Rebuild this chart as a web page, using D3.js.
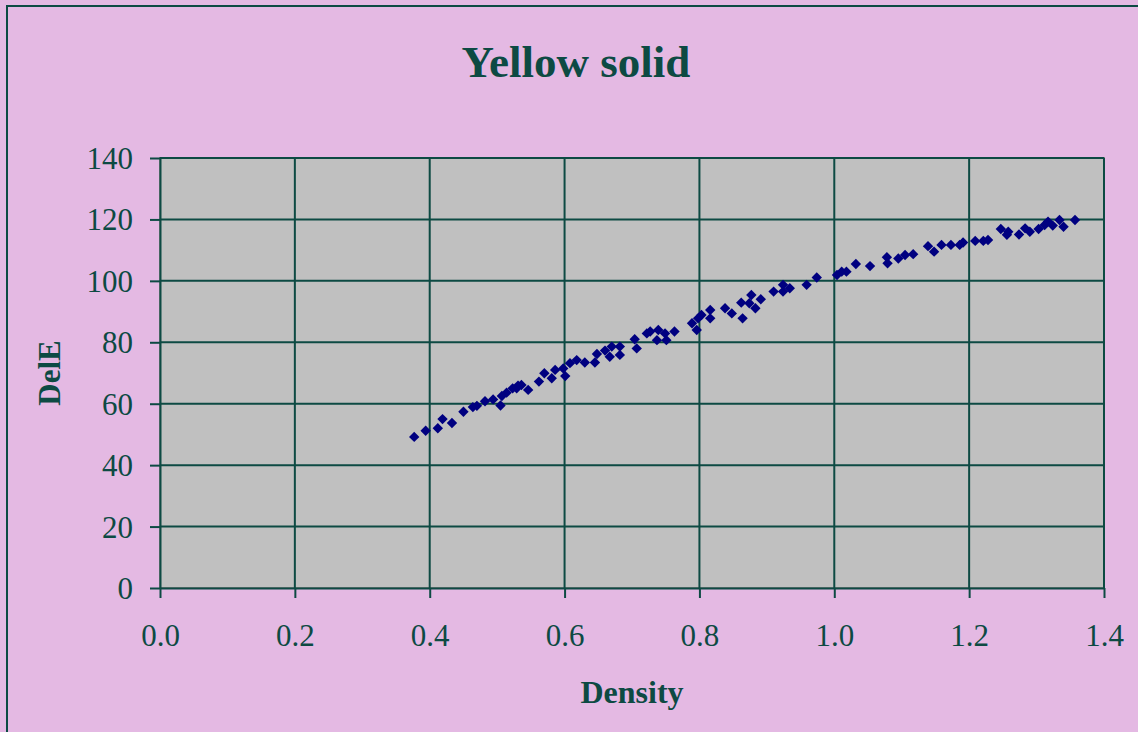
<!DOCTYPE html>
<html>
<head>
<meta charset="utf-8">
<script src="https://cdn.jsdelivr.net/npm/d3@7"></script>
<style>
  html, body { margin: 0; padding: 0; background: #e4b9e3; }
  svg { display: block; }
  .tick text { font-family: "Liberation Serif", "Times New Roman", serif; font-size: 31px; fill: #0d4a43; }
</style>
</head>
<body>
<div id="chart"></div>
<script>
// density / DelE readings
var density = [0.377, 0.394, 0.412, 0.419, 0.433, 0.450, 0.464, 0.470, 0.482, 0.494, 0.505, 0.507, 0.514, 0.523, 0.529, 0.531,
  0.536, 0.546, 0.562, 0.570, 0.581, 0.586, 0.598, 0.601, 0.608, 0.618, 0.630, 0.645, 0.648, 0.660, 0.667, 0.670, 0.682, 0.682,
  0.704, 0.707, 0.722, 0.727, 0.737, 0.739, 0.749, 0.751, 0.763, 0.789, 0.796, 0.798, 0.803, 0.816, 0.816, 0.838, 0.848,
  0.862, 0.864, 0.874, 0.877, 0.883, 0.891, 0.910, 0.924, 0.924, 0.934, 0.959, 0.974, 1.004, 1.011, 1.018,
  1.032, 1.053, 1.078, 1.079, 1.095, 1.105, 1.117, 1.139, 1.148, 1.159, 1.173, 1.186,
  1.191, 1.209, 1.221, 1.228, 1.247, 1.256, 1.258, 1.274, 1.283, 1.290, 1.303, 1.312, 1.317, 1.324, 1.334, 1.340, 1.357];
var delE = [49.2, 51.2, 52.0, 55.0, 53.7, 57.4, 58.9, 59.3, 60.8, 61.4, 59.4, 62.5, 63.6, 65.0, 65.0, 65.9,
  66.1, 64.5, 67.2, 69.9, 68.3, 71.0, 71.5, 69.0, 73.2, 74.2, 73.4, 73.4, 76.2, 77.3, 75.3, 78.6, 78.6, 75.9,
  81.0, 78.0, 82.9, 83.5, 80.7, 84.0, 82.9, 80.7, 83.5, 86.2, 84.0, 87.8, 88.9, 90.5, 87.8, 91.1, 89.4,
  92.9, 87.8, 92.7, 95.4, 91.1, 94.0, 96.5, 98.7, 96.5, 97.6, 98.7, 101.1, 101.9, 103.0, 103.0,
  105.5, 104.8, 107.7, 105.7, 107.3, 108.4, 108.7, 111.3, 109.5, 111.7, 111.7, 111.7,
  112.5, 113.0, 113.0, 113.3, 116.9, 115.0, 116.0, 115.1, 117.1, 116.0, 116.9, 118.2, 119.3, 118.0, 119.8, 117.6, 119.8];
var xTicks = [0.0, 0.2, 0.4, 0.6, 0.8, 1.0, 1.2, 1.4];
var yTicks = [0, 20, 40, 60, 80, 100, 120, 140];
var title = "Yellow solid", xTitle = "Density", yTitle = "DelE";

var W = 1138, H = 732;
var margin = { top: 158, right: 34, bottom: 144, left: 160 };
var width = W - margin.left - margin.right, height = H - margin.top - margin.bottom;
var ink = "#0d4a43";

var svg = d3.select("#chart").append("svg").attr("width", W).attr("height", H);
svg.append("rect").attr("x", 7).attr("y", 6).attr("width", W + 10).attr("height", H + 10)
  .attr("fill", "#e4b9e3").attr("stroke", ink).attr("stroke-width", 2);

var x = d3.scaleLinear().domain([0, 1.4]).range([0, width]);
var y = d3.scaleLinear().domain([0, 140]).range([height, 0]);

var g = svg.append("g").attr("transform", "translate(" + margin.left + "," + margin.top + ")");
g.append("rect").attr("width", width).attr("height", height).attr("fill", "#c0c0c0")
  .attr("stroke", "#808080").attr("stroke-width", 2);

// gridlines
g.append("g").selectAll("line").data(xTicks.slice(1)).join("line")
  .attr("x1", function(d) { return x(d); }).attr("x2", function(d) { return x(d); })
  .attr("y1", 0).attr("y2", height).attr("stroke", ink).attr("stroke-width", 2);
g.append("g").selectAll("line").data(yTicks.slice(1)).join("line")
  .attr("y1", function(d) { return y(d); }).attr("y2", function(d) { return y(d); })
  .attr("x1", 0).attr("x2", width).attr("stroke", ink).attr("stroke-width", 2);

var xAxis = g.append("g").attr("transform", "translate(0," + height + ")")
  .call(d3.axisBottom(x).tickValues(xTicks).tickFormat(d3.format(".1f")).tickSize(10).tickSizeOuter(0).tickPadding(26));
var yAxis = g.append("g")
  .call(d3.axisLeft(y).tickValues(yTicks).tickSize(10).tickSizeOuter(0).tickPadding(17));
[xAxis, yAxis].forEach(function(a) {
  a.select(".domain").attr("stroke", ink).attr("stroke-width", 2);
  a.selectAll(".tick line").attr("stroke", ink).attr("stroke-width", 2);
});
yAxis.selectAll(".tick text").attr("dy", "0.34em");
xAxis.selectAll(".tick text").attr("dy", "0.71em");

// diamonds = squares turned 45 degrees
var pts = density.map(function(d, i) { return { x: d, y: delE[i] }; });
g.append("g").selectAll("path").data(pts).join("path")
  .attr("d", d3.symbol(d3.symbolSquare, 54))
  .attr("transform", function(d) { return "translate(" + x(d.x) + "," + y(d.y) + ") rotate(45)"; })
  .attr("fill", "#000080");

svg.append("text").attr("x", 576).attr("y", 77).attr("text-anchor", "middle")
  .attr("font-family", "Liberation Serif, Times New Roman, serif").attr("font-weight", "bold")
  .attr("font-size", 45).attr("fill", ink).text(title);
svg.append("text").attr("x", margin.left + width / 2).attr("y", 703).attr("text-anchor", "middle")
  .attr("font-family", "Liberation Serif, Times New Roman, serif").attr("font-weight", "bold")
  .attr("font-size", 32).attr("fill", ink).text(xTitle);
svg.append("text").attr("transform", "translate(60," + (margin.top + height / 2) + ") rotate(-90)")
  .attr("text-anchor", "middle")
  .attr("font-family", "Liberation Serif, Times New Roman, serif").attr("font-weight", "bold")
  .attr("font-size", 31).attr("fill", ink).text(yTitle);
</script>
</body>
</html>
